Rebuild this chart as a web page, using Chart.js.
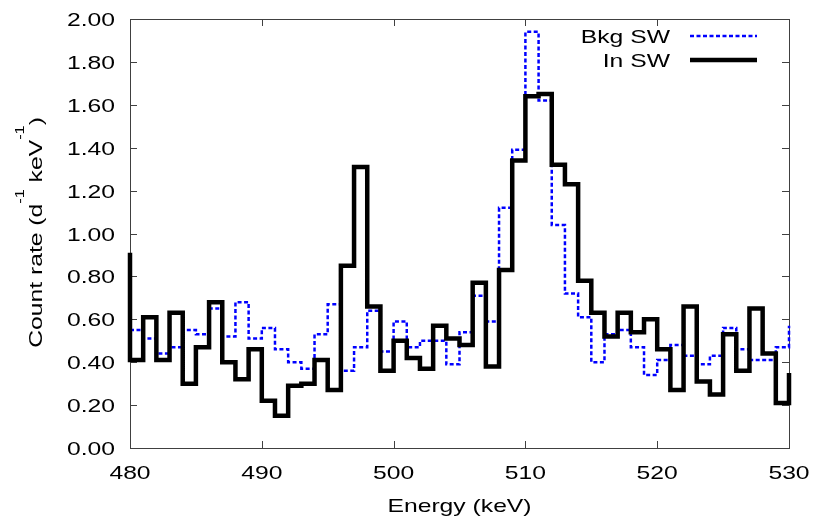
<!DOCTYPE html>
<html>
<head>
<meta charset="utf-8">
<script src="https://cdn.jsdelivr.net/npm/chart.js@4.4.1/dist/chart.umd.min.js"></script>
<style>
  html, body { margin: 0; padding: 0; background: #fff; }
</style>
</head>
<body>
<canvas id="spectrum" width="816" height="522"></canvas>
<script>
// 1 keV bins, first bin starts at 480 keV
const binStart = 480;

// Bkg SW (blue dashed)
const bkgSW = [
  0.55, 0.51, 0.44, 0.47, 0.55, 0.53, 0.65, 0.52, 0.68, 0.51,
  0.56, 0.46, 0.40, 0.37, 0.53, 0.67, 0.36, 0.47, 0.64, 0.45,
  0.59, 0.47, 0.50, 0.50, 0.39, 0.54, 0.71, 0.59, 1.12, 1.39,
  1.94, 1.62, 1.04, 0.72, 0.61, 0.40, 0.53, 0.55, 0.47, 0.34,
  0.41, 0.48, 0.43, 0.39, 0.43, 0.56, 0.46, 0.41, 0.41, 0.47,
];
const bkgSWNext = 0.57; // bin just past 530, only its edge shows

// In SW (black solid)
const inSW = [
  0.41, 0.61, 0.41, 0.63, 0.30, 0.47, 0.68, 0.40, 0.32, 0.46,
  0.22, 0.15, 0.29, 0.30, 0.41, 0.27, 0.85, 1.31, 0.66, 0.36,
  0.50, 0.42, 0.37, 0.57, 0.51, 0.48, 0.77, 0.38, 0.83, 1.34,
  1.64, 1.65, 1.32, 1.23, 0.78, 0.63, 0.52, 0.63, 0.54, 0.60,
  0.46, 0.27, 0.66, 0.31, 0.25, 0.53, 0.36, 0.65, 0.44, 0.21,
];
const inSWPrev = 0.91; // bin just below 480
const inSWNext = 0.35;

const xTicks = [480, 490, 500, 510, 520, 530];
const yTicks = [0, 0.2, 0.4, 0.6, 0.8, 1.0, 1.2, 1.4, 1.6, 1.8, 2.0];
const xTitle = "Energy (keV)";
const yTitleParts = [["Count rate (d", 0], ["-1", 1], [" keV", 0], ["-1", 1], [")", 0]];

// gnuplot-ish text: the fonts in the picture are wide, so stretch horizontally
const FONT = '"Liberation Sans", Arial, Helvetica, sans-serif';
const SX = 1.3;

function wideText(ctx, str, x, y, align, size) {
  ctx.save();
  ctx.font = size + "px " + FONT;
  const w = ctx.measureText(str).width * SX;
  let x0 = x;
  if (align === "center") x0 = x - w / 2;
  else if (align === "right") x0 = x - w;
  ctx.translate(x0, y);
  ctx.scale(SX, 1);
  ctx.textAlign = "left";
  ctx.textBaseline = "alphabetic";
  ctx.fillStyle = "#000";
  ctx.fillText(str, 0, 0);
  ctx.restore();
  return w;
}

// build histogram step points: each point is a bin's left edge
const toSteps = (vals, next, prev) => {
  const pts = [];
  if (prev !== undefined) pts.push({ x: binStart, y: prev });
  vals.forEach((v, i) => pts.push({ x: binStart + i, y: v }));
  pts.push({ x: binStart + vals.length, y: next });
  return pts;
};

const gnuFrame = {
  id: "gnuFrame",
  beforeDatasetsDraw(chart) {
    const { ctx, chartArea: a, scales } = chart;
    ctx.save();
    ctx.strokeStyle = "#404040";
    ctx.lineWidth = 1;
    ctx.strokeRect(a.left + 0.5, a.top + 0.5, a.right - a.left, a.bottom - a.top);
    const tl = 7;
    ctx.beginPath();
    xTicks.forEach((v) => {
      const px = Math.round(scales.x.getPixelForValue(v)) + 0.5;
      ctx.moveTo(px, a.bottom);
      ctx.lineTo(px, a.bottom - tl);
      ctx.moveTo(px, a.top);
      ctx.lineTo(px, a.top + tl);
    });
    yTicks.forEach((v) => {
      const py = Math.round(scales.y.getPixelForValue(v)) + 0.5;
      ctx.moveTo(a.left, py);
      ctx.lineTo(a.left + tl, py);
      ctx.moveTo(a.right, py);
      ctx.lineTo(a.right - tl, py);
    });
    ctx.stroke();
    ctx.restore();
  },
  afterDraw(chart) {
    const { ctx, chartArea: a, scales } = chart;
    const size = 19;
    const supSize = 12.5;

    yTicks.forEach((v) => {
      const py = scales.y.getPixelForValue(v);
      wideText(ctx, v.toFixed(2), a.left - 15, py + 7, "right", size);
    });
    xTicks.forEach((v) => {
      const px = scales.x.getPixelForValue(v);
      wideText(ctx, String(v), px, a.bottom + 31, "center", size);
    });
    wideText(ctx, xTitle, (a.left + a.right) / 2, 511.5, "center", size);

    // y title, rotated, with superscripts
    ctx.save();
    ctx.translate(42, 232.5);
    ctx.rotate(-Math.PI / 2);
    let total = 0;
    yTitleParts.forEach(([t, sup]) => {
      ctx.font = (sup ? supSize : size) + "px " + FONT;
      total += ctx.measureText(t).width * SX;
    });
    let cx = -total / 2;
    yTitleParts.forEach(([t, sup]) => {
      cx += wideText(ctx, t, cx, sup ? -18 : 0, "left", sup ? supSize : size);
    });
    ctx.restore();

    // key, top right, text left of the sample line
    chart.data.datasets.forEach((ds, i) => {
      const ry = 36 + i * 24;
      wideText(ctx, ds.label, 670, ry + 7, "right", size);
      ctx.save();
      ctx.strokeStyle = ds.borderColor;
      ctx.lineWidth = ds.borderWidth;
      ctx.setLineDash(ds.borderDash || []);
      ctx.beginPath();
      ctx.moveTo(690, ry);
      ctx.lineTo(757, ry);
      ctx.stroke();
      ctx.restore();
    });
  },
};

new Chart(document.getElementById("spectrum"), {
  type: "line",
  data: {
    datasets: [
      {
        label: "Bkg SW",
        data: toSteps(bkgSW, bkgSWNext),
        borderColor: "#0000ff",
        borderWidth: 2.5,
        borderDash: [4, 2.5],
        stepped: "before",
        pointRadius: 0,
        clip: 4,
        order: 2,
      },
      {
        label: "In SW",
        data: toSteps(inSW, inSWNext, inSWPrev),
        borderColor: "#000000",
        borderWidth: 4.5,
        borderJoinStyle: "miter",
        stepped: "before",
        pointRadius: 0,
        clip: 5,
        order: 1,
      },
    ],
  },
  options: {
    responsive: false,
    animation: false,
    devicePixelRatio: 1,
    layout: { padding: { left: 0, right: 27, top: 19, bottom: 0 } },
    scales: {
      x: {
        type: "linear",
        min: 480,
        max: 530,
        grid: { display: false },
        border: { display: false },
        ticks: { display: false },
        afterBuildTicks: (s) => { s.ticks = xTicks.map((v) => ({ value: v })); },
        afterFit: (s) => { s.height = 74; },
      },
      y: {
        type: "linear",
        min: 0,
        max: 2,
        grid: { display: false },
        border: { display: false },
        ticks: { display: false },
        afterBuildTicks: (s) => { s.ticks = yTicks.map((v) => ({ value: v })); },
        afterFit: (s) => { s.width = 130; },
      },
    },
    plugins: {
      legend: { display: false },
      tooltip: { enabled: false },
    },
  },
  plugins: [gnuFrame],
});
</script>
</body>
</html>
